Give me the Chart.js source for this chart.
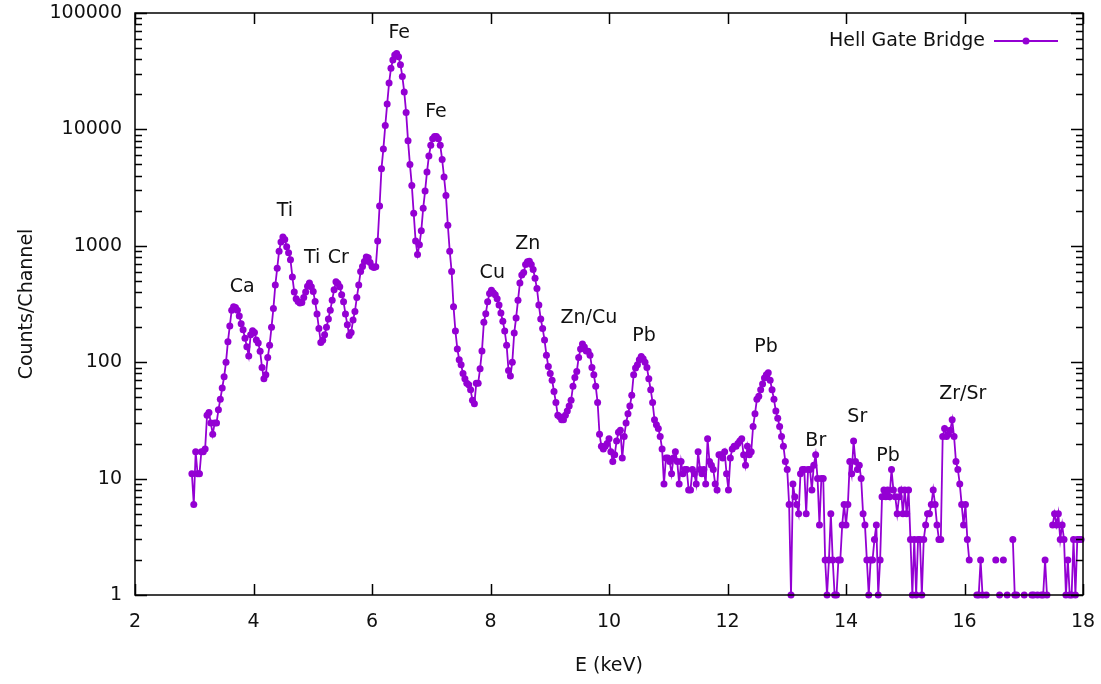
<!DOCTYPE html>
<html>
<head>
<meta charset="utf-8">
<script src="https://cdn.jsdelivr.net/npm/chart.js@4.4.1/dist/chart.umd.min.js"></script>
<style>
  html, body { margin: 0; padding: 0; background: #fff; }
</style>
</head>
<body>
<canvas id="xrfChart" width="1101" height="684"></canvas>
<script>
// Energy calibration of the spectrum: first channel and channel width (keV)
const startKeV = 2.96;
const stepKeV = 0.032;

// Counts per channel; null = empty channel (not drawn on the log axis)
const counts = [
  11, 6, 17, 11, 11,  17, 17, 18, 35, 37,
  30, 24, 30, 30, 39,  48, 60, 75, 100, 150,
  205, 280, 300, 295, 280,  250, 214, 190, 161, 136,
  113, 172, 186, 180, 155,  146, 124, 90, 72, 78,
  110, 140, 200, 290, 460,  640, 900, 1080, 1190, 1130,
  980, 870, 760, 540, 400,  350, 333, 322, 325, 360,
  400, 450, 479, 445, 405,  333, 260, 195, 148, 154,
  172, 200, 235, 280, 340,  420, 490, 475, 445, 380,
  330, 260, 210, 170, 180,  230, 273, 360, 460, 600,
  665, 734, 800, 790, 720,  665, 650, 660, 1100, 2200,
  4600, 6800, 10800, 16500, 25000,  33500, 39500, 43500, 44800, 42000,
  36000, 28500, 21000, 14000, 8000,  5000, 3300, 1900, 1100, 840,
  1020, 1350, 2100, 2950, 4300,  5900, 7300, 8300, 8700, 8700,
  8300, 7300, 5500, 3900, 2700,  1500, 900, 600, 300, 185,
  130, 105, 95, 80, 72,  66, 64, 58, 47, 44,
  66, 66, 88, 125, 220,  261, 330, 390, 415, 395,
  380, 350, 310, 265, 225,  185, 140, 85, 76, 100,
  178, 240, 340, 480, 560,  590, 690, 730, 735, 690,
  625, 525, 430, 310, 235,  195, 155, 115, 92, 80,
  70, 56, 45, 35, 34,  32, 32, 35, 38, 42,
  47, 62, 74, 83, 110,  130, 143, 135, 125, 124,
  115, 90, 78, 62, 45,  24, 19, 18, 19, 20,
  22, 17, 14, 16, 21,  25, 26, 15, 23, 30,
  36, 42, 52, 78, 89,  95, 105, 112, 107, 100,
  90, 72, 58, 45, 32,  29, 27, 23, 18, 9,
  15, 15, 14, 11, 15,  17, 14, 9, 14, 11,
  12, 12, 8, 8, 12,  11, 9, 17, 12, 11,
  12, 9, 22, 14, 13,  12, 9, 8, 16, 16,
  15, 17, 11, 8, 15,  18, 19, 19, 20, 21,
  22, 16, 13, 19, 16,  17, 28, 36, 48, 51,
  58, 65, 73, 78, 81,  70, 58, 48, 38, 33,
  28, 23, 19, 14, 12,  6, 1, 9, 7, 6,
  5, 11, 12, 12, 5,  12, 12, 8, 13, 16,
  10, 4, 10, 10, 2,  1, 2, 5, 2, 1,
  1, 2, 2, 4, 6,  4, 6, 14, 11, 21,
  14, 12, 13, 10, 5,  4, 2, 1, 2, 2,
  3, 4, 1, 2, 7,  8, 7, 8, 7, 12,
  8, 7, 5, 7, 8,  5, 8, 5, 8, 3,
  1, 3, 1, 3, 3,  1, 3, 4, 5, 5,
  6, 8, 6, 4, 3,  3, 23, 27, 23, 24,
  26, 32, 23, 14, 12,  9, 6, 4, 6, 3,
  2, null, null, null, 1,  1, 2, 1, null, 1,
  null, null, null, null, 2,  null, 1, null, 2, null,
  1, null, null, 3, 1,  1, null, null, null, 1,
  null, null, null, 1, 1,  null, 1, null, 1, 1,
  2, 1, null, null, 4,  5, 4, 5, 3, 4,
  3, 1, 2, 1, 1,  3, 1, 3, 3, 3,
  null
];

// Peak annotations (name, energy in keV, height in counts where the text sits)
const peakNames = ['Ca', 'Ti', 'Ti', 'Cr', 'Fe', 'Fe', 'Cu', 'Zn', 'Zn/Cu', 'Pb', 'Pb', 'Br', 'Sr', 'Pb', 'Zr/Sr'];
const peakKeV = [3.81, 4.53, 4.99, 5.43, 6.46, 7.08, 8.03, 8.63, 9.66, 10.59, 12.65, 13.49, 14.19, 14.71, 15.97];
const peakCounts = [440, 2000, 790, 790, 67000, 14000, 580, 1030, 240, 168, 135, 21, 34, 15.7, 53];

// Labelled y ticks (decades)
const yLabels = [1, 10, 100, 1000, 10000, 100000];

const seriesName = 'Hell Gate Bridge';
const purple = '#9400d3';
const inkColor = '#111';

const points = counts.map((c, i) => ({ x: startKeV + i * stepKeV, y: c }));

// frame, inward ticks on all four sides, peak labels and legend
const frameTicks = {
    id: 'frameTicks',
    afterDatasetsDraw(chart) {
        const { ctx, chartArea: a, scales: { x, y } } = chart;
        ctx.save();
        ctx.strokeStyle = '#000';
        ctx.lineWidth = 1.5;

        x.ticks.forEach(t => {
            const px = Math.round(x.getPixelForValue(t.value)) + 0.5;
            ctx.beginPath();
            ctx.moveTo(px, a.bottom); ctx.lineTo(px, a.bottom - 11);
            ctx.moveTo(px, a.top); ctx.lineTo(px, a.top + 11);
            ctx.stroke();
        });

        y.ticks.forEach(t => {
            const mant = t.value / Math.pow(10, Math.floor(Math.log10(t.value) + 1e-9));
            if (Math.abs(mant - Math.round(mant)) > 1e-6) return;  // skip the 1.5 style ticks
            const len = yLabels.includes(t.value) ? 12 : 7;
            const py = Math.round(y.getPixelForValue(t.value)) + 0.5;
            ctx.beginPath();
            ctx.moveTo(a.left, py); ctx.lineTo(a.left + len, py);
            ctx.moveTo(a.right, py); ctx.lineTo(a.right - len, py);
            ctx.stroke();
        });

        ctx.strokeRect(a.left, a.top, a.right - a.left, a.bottom - a.top);

        ctx.fillStyle = inkColor;
        ctx.font = '19px "DejaVu Sans"';
        ctx.textAlign = 'center';
        ctx.textBaseline = 'middle';
        peakNames.forEach((name, i) => {
            ctx.fillText(name, x.getPixelForValue(peakKeV[i]), y.getPixelForValue(peakCounts[i]));
        });

        // legend
        const ly = 41;
        ctx.textAlign = 'right';
        ctx.fillText(seriesName, 985, ly);
        ctx.strokeStyle = purple;
        ctx.lineWidth = 1.8;
        ctx.beginPath();
        ctx.moveTo(994, ly); ctx.lineTo(1058, ly);
        ctx.stroke();
        ctx.fillStyle = purple;
        ctx.beginPath();
        ctx.arc(1026, ly, 3.5, 0, Math.PI * 2);
        ctx.fill();
        ctx.restore();
    }
};

Chart.defaults.font.family = '"DejaVu Sans", Verdana, sans-serif';
Chart.defaults.font.size = 19;
Chart.defaults.color = inkColor;

const ctx = document.getElementById('xrfChart').getContext('2d');
const xrfChart = new Chart(ctx, {
    type: 'line',
    data: {
        datasets: [{
            label: seriesName,
            data: points,
            borderColor: purple,
            backgroundColor: purple,
            borderWidth: 1.8,
            pointRadius: 3.5,
            pointBorderWidth: 0,
            pointBackgroundColor: purple,
            tension: 0,
            spanGaps: false,
            clip: false
        }]
    },
    options: {
        responsive: false,
        animation: false,
        devicePixelRatio: 1,
        layout: { padding: { top: 13, right: 18, left: 0, bottom: 0 } },
        scales: {
            x: {
                type: 'linear',
                min: 2,
                max: 18,
                grid: { display: false, drawTicks: false },
                border: { display: false },
                ticks: { stepSize: 2, padding: 16 },
                title: { display: true, text: 'E (keV)', padding: { top: 0, bottom: 7 } },
                afterFit(scale) {
                    scale.height = 89;
                    scale.paddingLeft = 0;
                    scale.paddingRight = 0;
                }
            },
            y: {
                type: 'logarithmic',
                min: 1,
                max: 100000,
                grid: { display: false, drawTicks: false },
                border: { display: false },
                ticks: {
                    autoSkip: false,
                    padding: 13,
                    callback: v => yLabels.includes(v) ? String(v) : ''
                },
                title: { display: true, text: 'Counts/Channel', padding: { top: 16, bottom: 0 } },
                afterFit(scale) {
                    scale.width = 135;
                    scale.paddingTop = 0;
                    scale.paddingBottom = 0;
                }
            }
        },
        plugins: {
            legend: { display: false },
            tooltip: { enabled: false }
        }
    },
    plugins: [frameTicks]
});
</script>
</body>
</html>
